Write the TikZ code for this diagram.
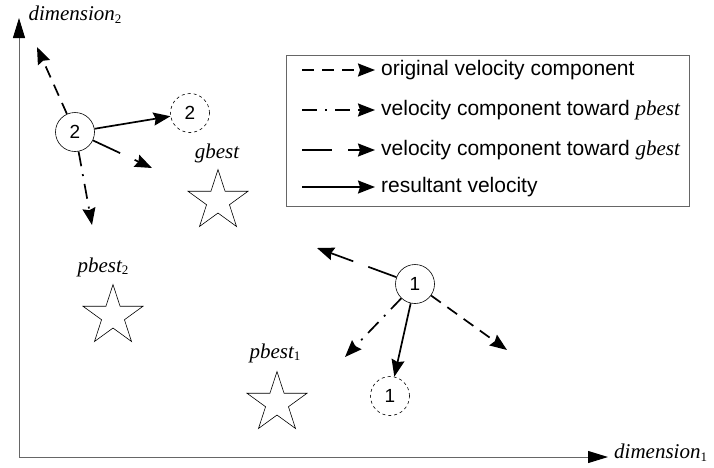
\documentclass[tikz,border=0pt]{standalone}
\usepackage{fontspec}
\setmainfont{Liberation Sans}
\newfontfamily\tim{Liberation Serif}
\usetikzlibrary{arrows.meta,shapes.geometric}
\newcommand{\subn}[1]{\raisebox{-0.3ex}{\fontsize{13}{13}\selectfont\upshape #1}}
\begin{document}
\begin{tikzpicture}[x=1pt,y=-1pt,
 vtip/.style={-{Stealth[length=17pt,width=13pt,inset=2pt]}, line width=1.7pt},
 orig/.style={vtip, dash pattern=on 12pt off 8pt},
 towp/.style={vtip, dash pattern=on 15pt off 8pt on 2pt off 8pt},
 towg/.style={vtip, dash pattern=on 30pt off 16pt},
 res/.style={vtip},
 axis/.style={draw=black!60, line width=1pt, -{Triangle[length=20pt,width=12pt,color=black]}},
 part/.style={circle, draw, line width=0.6pt, minimum size=39pt, inner sep=0pt, font=\fontsize{19}{19}\selectfont},
 ghost/.style={part, dashed},
 starn/.style={star, star points=5, star point ratio=2.618, draw, line width=0.6pt, minimum size=63pt, inner sep=0pt},
 lab/.style={font=\fontsize{21}{21}\selectfont\tim\itshape, inner sep=0pt},
 leg/.style={font=\fontsize{21}{21}\selectfont, anchor=west, inner sep=0pt}
]
\useasboundingbox (0,0) rectangle (714,467);
% axes
\coordinate (O) at (19,457);
\coordinate (Y) at (19,18);
\coordinate (X) at (608,457);
\draw[axis] (O) -- (Y);
\draw[axis] (O) -- (X);
\node[lab] (d2) at (75,15) {dimension\subn{2}};
\node[lab, anchor=west] (d1) at (614,453) {dimension\subn{1}};
% legend
\node[draw=black!60, line width=0.8pt, minimum width=403pt, minimum height=151pt, inner sep=0pt] (legend) at (487.5,130.5) {};
\coordinate (a1) at (302,70); \coordinate (b1) at (375,70);
\coordinate (a2) at (302,110); \coordinate (b2) at (375,110);
\coordinate (a3) at (302,150); \coordinate (b3) at (375,150);
\coordinate (a4) at (302,187); \coordinate (b4) at (375,187);
\draw[orig] (a1) -- (b1);
\draw[towp] (a2) -- (b2);
\draw[towg] (a3) -- (b3);
\draw[res] (a4) -- (b4);
\node[leg] (t1) at (381,70) {original velocity component};
\node[leg] (t2) at (381,110) {velocity component toward {\tim\itshape pbest}};
\node[leg] (t3) at (381,150) {velocity component toward {\tim\itshape gbest}};
\node[leg] (t4) at (381,187) {resultant velocity};
% stars
\node[starn] (sg) at (218,201) {};
\node[lab] (lg) at (217,153) {gbest};
\node[starn] (sp2) at (113,316) {};
\node[lab] (lp2) at (103,267) {pbest\subn{2}};
\node[starn] (sp1) at (277,403) {};
\node[lab] (lp1) at (275,353) {pbest\subn{1}};
% particle 2
\node[part] (n2) at (75,132) {2};
\node[ghost] (g2) at (190,113) {2};
\coordinate (o2) at (37,47);
\coordinate (p2) at (92,225);
\coordinate (q2) at (152,168);
\draw[orig] (n2) -- (o2);
\draw[towp] (n2) -- (p2);
\draw[towg] (n2) -- (q2);
\draw[res] (n2) -- (g2);
% particle 1
\node[part] (n1) at (415,284) {1};
\node[ghost] (g1) at (390,396) {1};
\coordinate (o1) at (507,350);
\coordinate (p1) at (345,357);
\coordinate (q1) at (317,248);
\draw[orig] (n1) -- (o1);
\draw[towp] (n1) -- (p1);
\draw[towg] (n1) -- (q1);
\draw[res] (n1) -- (g1);
\end{tikzpicture}
\end{document}
